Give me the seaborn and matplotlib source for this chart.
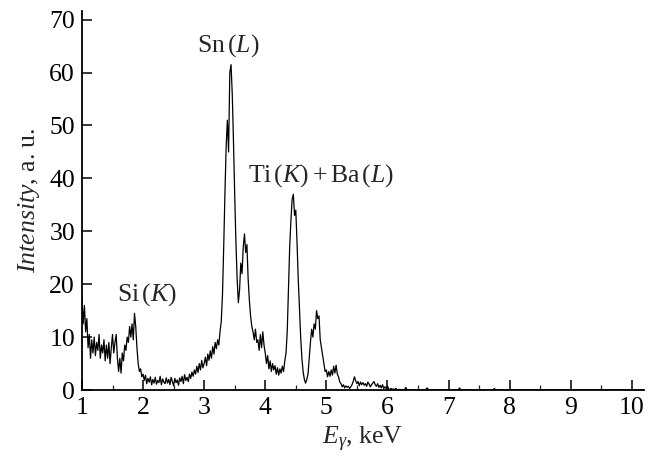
import numpy as np
import pandas as pd
import matplotlib
matplotlib.use("Agg")
import matplotlib.pyplot as plt
import seaborn as sns
from matplotlib.ticker import MultipleLocator

# spectrum, 0.02 keV steps from 1.00 to 6.20 keV
e_start, e_step = 1.00, 0.02
intensity = [
    17.5, 12.5, 16, 11, 13.5, 8, 10.5, 6, 9.5, 7,           # 1.00
    10, 6.5, 9, 7.5, 10.5, 6, 8.5, 7, 9.5, 5.5,             # 1.20
    8.5, 6, 9, 5, 8, 10.5, 7, 9, 10.5, 6,                   # 1.40
    3.5, 6, 3.2, 7, 5.5, 8.5, 7.5, 10, 9, 12,               # 1.60
    10, 12.5, 9.5, 14.5, 12, 8, 5, 3.5, 4, 2.5,             # 1.80
    3.0, 1.8, 2.8, 1.2, 2.2, 1.5, 2.5, 1.0, 2.0, 1.3,       # 2.00
    2.4, 1.1, 1.8, 1.4, 2.6, 1.0, 2.1, 1.5, 1.2, 2.3,       # 2.20
    1.3, 2.0, 1.0, 2.4, 1.6, 0.8, 2.2, 1.4, 1.9, 0.9,       # 2.40
    2.3, 1.6, 2.6, 1.2, 2.9, 1.8, 2.4, 1.6, 3.0, 2.2,       # 2.60
    3.4, 2.6, 3.8, 3.0, 4.5, 3.3, 5.0, 3.8, 5.6, 4.2,       # 2.80
    5.0, 6.2, 4.6, 6.8, 5.6, 7.4, 6.0, 8.2, 6.8, 9.0,       # 3.00
    7.8, 9.5, 8.5, 11, 13, 18, 27, 37, 46, 51,              # 3.20
    45, 60, 61.5, 56, 47, 37, 28, 21, 16.5, 19,             # 3.40
    24, 22, 27, 29.5, 26, 27.5, 21, 17, 14, 12,             # 3.60
    11, 9.5, 11.5, 9, 9.5, 7.5, 10.5, 8, 11, 8.5,           # 3.80
    7, 5, 6.5, 4, 5.5, 3.5, 5, 3.8, 4.6, 3,                 # 4.00
    4.2, 2.8, 4, 3.2, 4.5, 3.5, 5.5, 7, 11, 19,             # 4.20
    27, 32, 36, 37, 33, 34, 28, 21, 15.5, 10,               # 4.40
    6, 3.5, 2, 1.3, 2, 3, 6, 9, 11.5, 10,                   # 4.60
    12.5, 11.5, 15, 13.5, 14, 9.5, 8, 6.5, 5, 3.5,          # 4.80
    3.8, 2.5, 3.5, 2.6, 3.8, 2.8, 4.5, 3.2, 4.7, 3.0,       # 5.00
    2.5, 1.5, 1.2, 0.6, 1.0, 0.4, 0.8, 0.5, 0.7, 0.3,       # 5.20
    0.6, 1.0, 1.6, 2.5, 1.8, 1.2, 1.6, 0.8, 1.5, 1.0,       # 5.40
    1.4, 0.9, 1.2, 0.7, 1.5, 1.1, 0.6, 1.0, 1.3, 1.6,       # 5.60
    1.0, 0.7, 1.2, 0.5, 0.9, 0.4, 1.0, 0.3, 0.6, 0.3,       # 5.80
    0.8, 0.2, 0.1, 0.3, 0.1, 0.2, 0.1, 0.3, 0.0, 0.1,       # 6.00
    0.1,                                                    # 6.20
]
energy = [round(e_start + i * e_step, 2) for i in range(len(intensity))]

# flat tail with a few tiny blips
tail_e = [6.28, 6.30, 6.32, 6.62, 6.65, 6.68, 7.16, 7.18, 7.20, 7.73, 7.75, 7.77, 10.2]
tail_i = [0.0, 0.5, 0.0, 0.0, 0.4, 0.0, 0.0, 0.4, 0.0, 0.0, 0.3, 0.0, 0.0]

df = pd.DataFrame({"E": energy + tail_e, "I": intensity + tail_i})

sns.set_style("ticks")
plt.rcParams["font.family"] = ["Liberation Serif", "DejaVu Serif"]
plt.rcParams["mathtext.fontset"] = "custom"
plt.rcParams["mathtext.rm"] = "Liberation Serif"
plt.rcParams["mathtext.it"] = "Liberation Serif:italic"

fs = 18.5

fig = plt.figure(figsize=(6.49, 4.59), dpi=100)
ax = fig.add_axes([0.1263, 0.1503, 0.8660, 0.8264])

sns.lineplot(data=df, x="E", y="I", color="black", linewidth=0.9,
             estimator=None, sort=False, ax=ax)

ax.set_xlim(1, 10.2)
ax.set_ylim(0, 71.7)
ax.xaxis.set_major_locator(MultipleLocator(1))
ax.xaxis.set_minor_locator(MultipleLocator(0.5))
ax.yaxis.set_major_locator(MultipleLocator(10))
ax.tick_params(axis="both", which="major", direction="in", length=7, width=1.1,
               labelsize=fs, colors="black")
ax.tick_params(axis="x", which="major", pad=5)
ax.tick_params(axis="y", which="major", pad=5)
ax.tick_params(axis="x", which="minor", direction="in", length=3.5, width=0.9)

for s in ["top", "right"]:
    ax.spines[s].set_visible(False)
for s in ["left", "bottom"]:
    ax.spines[s].set_linewidth(1.3)
    ax.spines[s].set_color("black")

ax.set_xlabel(r"$E_\gamma$, keV", fontsize=fs, labelpad=4)
ax.set_ylabel(r"$\mathit{Intensity}$, a. u.", fontsize=fs, labelpad=5)

ax.text(3.39, 65.2, r"Sn$\,(L)$", fontsize=fs, ha="center", va="center")
ax.text(4.92, 40.6, r"Ti$\,(K)+$Ba$\,(L)$", fontsize=fs, ha="center", va="center")
ax.text(2.07, 18.1, r"Si$\,(K)$", fontsize=fs, ha="center", va="center")

fig.savefig("out.png", dpi=100)
